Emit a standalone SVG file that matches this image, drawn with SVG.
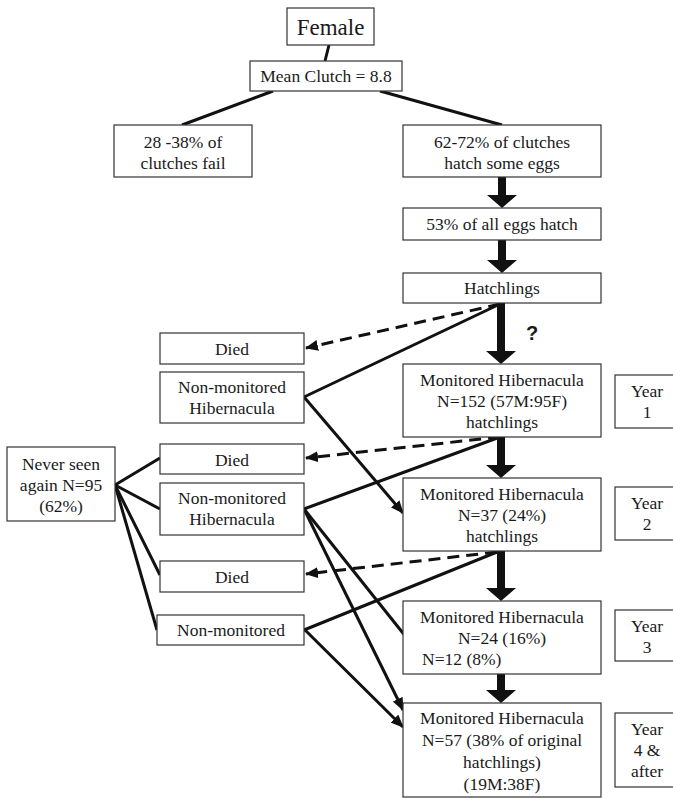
<svg xmlns="http://www.w3.org/2000/svg" width="673" height="798" viewBox="0 0 673 798">
<style>
.box{fill:#fff;stroke:#333;stroke-width:1.2}
.t{font-family:'Liberation Serif','Times New Roman','DejaVu Serif',serif;font-size:17.5px;fill:#1a1a1a;text-anchor:middle}
.ln{stroke:#111;stroke-width:3;fill:none}
.ds{stroke:#111;stroke-width:3;fill:none;stroke-dasharray:12 7}
.thick{fill:#111}
</style>
<defs>
<marker id="ah" markerUnits="userSpaceOnUse" viewBox="0 0 13 11" refX="12" refY="5.5" markerWidth="13" markerHeight="11" orient="auto">
<path d="M0,0 L13,5.5 L0,11 Z" fill="#111"/>
</marker>
</defs>
<g id="connectors">
<line class="ln" x1="329" y1="45" x2="325" y2="61"/>
<line class="ln" x1="273" y1="91" x2="182" y2="125"/>
<line class="ln" x1="380" y1="91" x2="502" y2="125"/>
<path class="thick" d="M498,177 V195 H487 L502,208 L517,195 H506 V177 Z"/>
<path class="thick" d="M498,240 V260 H487 L502,273 L517,260 H506 V240 Z"/>
<path class="thick" d="M497,303 V351 H486 L501,364 L516,351 H505 V303 Z"/>
<path class="thick" d="M497,437 V465 H486 L501,478 L516,465 H505 V437 Z"/>
<path class="thick" d="M497,551 V588 H486 L501,601 L516,588 H505 V551 Z"/>
<path class="thick" d="M497,674 V690 H486 L501,703 L516,690 H505 V674 Z"/>
<line class="ds" x1="500" y1="304" x2="306" y2="348" marker-end="url(#ah)"/>
<line class="ln" x1="500" y1="304" x2="304" y2="397"/>
<line class="ln" x1="304" y1="397" x2="403" y2="513" marker-end="url(#ah)"/>
<line class="ds" x1="500" y1="437" x2="306" y2="458" marker-end="url(#ah)"/>
<line class="ln" x1="500" y1="437" x2="304" y2="509"/>
<line class="ln" x1="304" y1="509" x2="418" y2="652" marker-end="url(#ah)"/>
<line class="ln" x1="304" y1="509" x2="403" y2="710" marker-end="url(#ah)"/>
<line class="ds" x1="497" y1="552" x2="306" y2="574" marker-end="url(#ah)"/>
<line class="ln" x1="497" y1="552" x2="304" y2="630"/>
<line class="ln" x1="304" y1="629" x2="403" y2="727" marker-end="url(#ah)"/>
<line class="ln" x1="115" y1="485" x2="160" y2="458"/>
<line class="ln" x1="115" y1="485" x2="160" y2="509"/>
<line class="ln" x1="115" y1="485" x2="160" y2="575"/>
<line class="ln" x1="115" y1="485" x2="157" y2="630"/>
</g>
<g font-family="Liberation Serif, Times New Roman, serif">
<g id="female"><rect class="box" x="287" y="8" width="87" height="37"/><text class="t" x="330.5" y="35" style="font-size:23px">Female</text></g>
<g id="clutch"><rect class="box" x="250" y="61" width="152" height="30"/><text class="t" x="326" y="82">Mean Clutch = 8.8</text></g>
<g id="fail"><rect class="box" x="114" y="125" width="138" height="52"/><text class="t" x="183" y="148">28 -38% of</text><text class="t" x="183" y="169">clutches fail</text></g>
<g id="hatchsome"><rect class="box" x="403" y="125" width="198" height="52"/><text class="t" x="502" y="148">62-72% of clutches</text><text class="t" x="502" y="169">hatch some eggs</text></g>
<g id="eggs53"><rect class="box" x="403" y="208" width="198" height="32"/><text class="t" x="502" y="230">53% of all eggs hatch</text></g>
<g id="hatchlings"><rect class="box" x="403" y="273" width="198" height="30"/><text class="t" x="502" y="294">Hatchlings</text></g>
<text x="532" y="340" style="font-family:'Liberation Sans',Arial,sans-serif;font-weight:bold;font-size:20px;fill:#1a1a1a;text-anchor:middle">?</text>
<g id="died1"><rect class="box" x="160" y="333" width="144" height="31"/><text class="t" x="232" y="355">Died</text></g>
<g id="nonmon1"><rect class="box" x="160" y="372" width="144" height="51"/><text class="t" x="232" y="393">Non-monitored</text><text class="t" x="232" y="414">Hibernacula</text></g>
<g id="mon1"><rect class="box" x="403" y="364" width="198" height="73"/><text class="t" x="502" y="386">Monitored Hibernacula</text><text class="t" x="502" y="407">N=152 (57M:95F)</text><text class="t" x="502" y="428">hatchlings</text></g>
<g id="year1"><rect class="box" x="615" y="375" width="64" height="53"/><text class="t" x="647" y="397">Year</text><text class="t" x="647" y="418">1</text></g>
<g id="never"><rect class="box" x="7" y="447" width="108" height="74"/><text class="t" x="61" y="470">Never seen</text><text class="t" x="61" y="491">again N=95</text><text class="t" x="61" y="512">(62%)</text></g>
<g id="died2"><rect class="box" x="160" y="444" width="144" height="30"/><text class="t" x="232" y="466">Died</text></g>
<g id="nonmon2"><rect class="box" x="160" y="483" width="144" height="52"/><text class="t" x="232" y="504">Non-monitored</text><text class="t" x="232" y="525">Hibernacula</text></g>
<g id="mon2"><rect class="box" x="403" y="478" width="198" height="73"/><text class="t" x="502" y="500">Monitored Hibernacula</text><text class="t" x="502" y="521">N=37 (24%)</text><text class="t" x="502" y="542">hatchlings</text></g>
<g id="year2"><rect class="box" x="615" y="487" width="64" height="53"/><text class="t" x="647" y="509">Year</text><text class="t" x="647" y="530">2</text></g>
<g id="died3"><rect class="box" x="160" y="561" width="144" height="31"/><text class="t" x="232" y="583">Died</text></g>
<g id="nonmon3"><rect class="box" x="157" y="615" width="147" height="30"/><text class="t" x="231" y="636">Non-monitored</text></g>
<g id="mon3"><rect class="box" x="403" y="601" width="198" height="73"/><text class="t" x="502" y="623">Monitored Hibernacula</text><text class="t" x="502" y="644">N=24 (16%)</text><text class="t" x="422" y="665" style="text-anchor:start">N=12 (8%)</text></g>
<g id="year3"><rect class="box" x="615" y="610" width="64" height="51"/><text class="t" x="647" y="632">Year</text><text class="t" x="647" y="653">3</text></g>
<g id="mon4"><rect class="box" x="403" y="703" width="198" height="94"/><text class="t" x="502" y="724">Monitored Hibernacula</text><text class="t" x="502" y="746">N=57 (38% of original</text><text class="t" x="502" y="768">hatchlings)</text><text class="t" x="502" y="790">(19M:38F)</text></g>
<g id="year4"><rect class="box" x="615" y="713" width="64" height="74"/><text class="t" x="647" y="735">Year</text><text class="t" x="647" y="756">4 &amp;</text><text class="t" x="647" y="777">after</text></g>
</g>
</svg>
